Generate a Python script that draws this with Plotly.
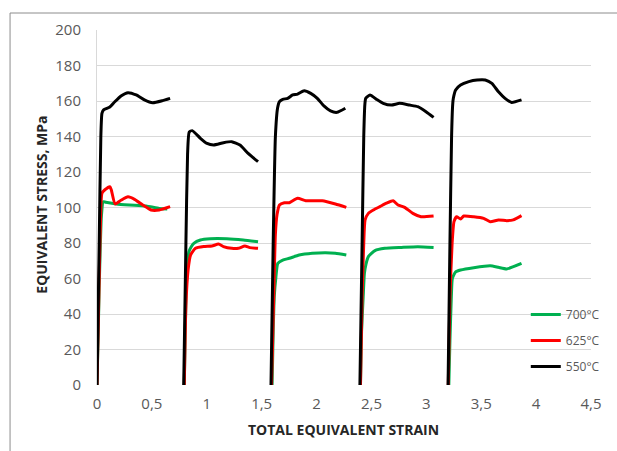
import plotly.graph_objects as go

# ---------------- data ----------------
x_tickvals = [0, 0.5, 1, 1.5, 2, 2.5, 3, 3.5, 4, 4.5]
x_ticktext = ["0", "0,5", "1", "1,5", "2", "2,5", "3", "3,5", "4", "4,5"]
y_tickvals = [0, 20, 40, 60, 80, 100, 120, 140, 160, 180, 200]

series_names = ["700°C", "625°C", "550°C"]
series_colors = ["#00B050", "#FF0000", "#000000"]

# 700 °C (green)
strain_700 = [0, 0.02, 0.04, 0.057, 0.08, 0.177, 0.297, 0.447, 0.567, 0.64, None,
              0.795, 0.81, 0.825, 0.837, 0.86, 0.882, 0.942, 1.032, 1.182, 1.332, 1.467, None,
              1.595, 1.605, 1.615, 1.63, 1.647, 1.692, 1.752, 1.842, 1.962, 2.082, 2.172, 2.271, None,
              2.4, 2.41, 2.425, 2.436, 2.45, 2.472, 2.532, 2.622, 2.772, 2.922, 3.066, None,
              3.205, 3.215, 3.228, 3.237, 3.267, 3.312, 3.432, 3.582, 3.657, 3.732, 3.867]
stress_700 = [0, 55, 95, 103.3, 103, 102, 101.4, 100.8, 99.5, 99.2, None,
              0, 50, 68, 75, 78, 79.8, 81.7, 82.4, 82.4, 81.7, 80.7, None,
              0, 30, 50, 61, 68.5, 70.4, 71.4, 73.2, 74.2, 74.5, 74.2, 73.2, None,
              0, 30, 50, 62.9, 68, 72.3, 75.7, 77, 77.5, 77.9, 77.5, None,
              0, 25, 50, 60, 63.8, 64.8, 66.1, 67.2, 66.3, 65.4, 68.5]

# 625 °C (red)
strain_625 = [0, 0.02, 0.035, 0.045, 0.072, 0.117, 0.13, 0.165, 0.222, 0.282, 0.342, 0.417, 0.492, 0.567, 0.666, None,
              0.795, 0.81, 0.83, 0.852, 0.897, 0.972, 1.047, 1.107, 1.152, 1.227, 1.287, 1.347, 1.392, 1.467, None,
              1.59, 1.61, 1.625, 1.64, 1.662, 1.707, 1.752, 1.827, 1.902, 2.052, 2.172, 2.271, None,
              2.4, 2.415, 2.43, 2.442, 2.472, 2.517, 2.577, 2.637, 2.697, 2.742, 2.802, 2.877, 2.952, 3.066, None,
              3.2, 3.215, 3.235, 3.252, 3.276, 3.312, 3.342, 3.432, 3.522, 3.582, 3.657, 3.732, 3.792, 3.867]
stress_625 = [0, 60, 100, 108, 110, 111.7, 110, 102, 104.2, 106, 104.6, 101.4, 98.6, 98.6, 100.5, None,
              0, 45, 65, 73.2, 77, 78, 78.3, 79.4, 78, 77, 77, 78.3, 77.4, 77, None,
              0, 50, 85, 96, 101.4, 102.7, 102.7, 105.2, 103.8, 103.8, 102, 100.1, None,
              0, 50, 80, 93, 96.7, 98.6, 100.5, 102.4, 103.8, 101.4, 100.1, 96.7, 94.8, 95.2, None,
              0, 50, 80, 92, 94.8, 93.5, 95.2, 94.8, 93.9, 92, 93, 92.6, 93, 95.4]

# 550 °C (black)
strain_550 = [0, 0.02, 0.035, 0.045, 0.06, 0.117, 0.162, 0.222, 0.282, 0.357, 0.432, 0.507, 0.597, 0.666, None,
              0.79, 0.81, 0.825, 0.84, 0.867, 0.942, 1.002, 1.062, 1.152, 1.227, 1.302, 1.377, 1.467, None,
              1.585, 1.605, 1.625, 1.645, 1.662, 1.692, 1.737, 1.782, 1.827, 1.887, 1.947, 2.007, 2.067, 2.127, 2.187, 2.262, None,
              2.395, 2.415, 2.43, 2.44, 2.448, 2.487, 2.547, 2.607, 2.682, 2.757, 2.847, 2.922, 2.997, 3.066, None,
              3.198, 3.215, 3.23, 3.24, 3.246, 3.267, 3.312, 3.387, 3.462, 3.537, 3.597, 3.657, 3.717, 3.777, 3.867]
stress_550 = [0, 80, 140, 153, 155, 156.6, 159.6, 163, 164.7, 163.4, 160.6, 159, 160.2, 161.5, None,
              0, 80, 130, 142.5, 143.3, 139, 136.1, 135.2, 136.5, 137.1, 135.2, 130.5, 125.8, None,
              0, 80, 140, 156, 159.6, 160.9, 161.5, 163.4, 163.9, 165.8, 164.3, 161.5, 157.2, 154.4, 153.6, 155.9, None,
              0, 80, 140, 158, 161.5, 163.4, 160.9, 158.7, 157.7, 158.7, 157.7, 156.8, 154, 150.8, None,
              0, 80, 140, 158, 161.5, 166.2, 169, 170.9, 171.8, 171.8, 169.9, 165.2, 161.5, 159.2, 160.6]

all_strain = [strain_700, strain_625, strain_550]
all_stress = [stress_700, stress_625, stress_550]

# ---------------- figure ----------------
fig = go.Figure()
for name, color, xs, ys in zip(series_names, series_colors, all_strain, all_stress):
    fig.add_trace(go.Scatter(
        x=xs, y=ys, mode="lines", name=name, legendgroup=name,
        line=dict(color=color, width=3, shape="spline", smoothing=0.5),
        connectgaps=False,
    ))

tick_font = dict(family="Open Sans", size=15, color="#595959")
title_font = dict(family="Open Sans", size=14, color="#262626")

fig.update_layout(
    width=617, height=451,
    margin=dict(l=97, r=20, t=30, b=66),
    paper_bgcolor="white", plot_bgcolor="white",
    showlegend=True,
    legend=dict(x=(531 - 97) / 500, xanchor="left", y=(385 - 300) / 355, yanchor="top",
                font=dict(family="Open Sans", size=12, color="#595959"),
                bgcolor="rgba(0,0,0,0)", tracegroupgap=7, itemwidth=30),
    xaxis=dict(range=[0, 4.5], tickvals=x_tickvals, ticktext=x_ticktext,
               showgrid=False, zeroline=False, showline=False, ticks="",
               tickfont=tick_font, ticklabelstandoff=8),
    yaxis=dict(range=[0, 200], tickvals=y_tickvals, showgrid=True, gridcolor="#d9d9d9",
               gridwidth=1, zeroline=False, showline=True, linecolor="#d9d9d9", linewidth=1,
               ticks="", tickfont=tick_font, ticklabelstandoff=12),
    shapes=[dict(type="rect", xref="paper", yref="paper",
                 x0=(9 - 97) / 500, x1=1.3, y0=-0.5, y1=(385 - 13) / 355,
                 line=dict(color="#8c8c8c", width=1), fillcolor="rgba(0,0,0,0)", layer="below")],
    annotations=[
        dict(text="<b>TOTAL EQUIVALENT STRAIN</b>", xref="paper", yref="paper",
             x=0.498, y=(385 - 429) / 355, xanchor="center", yanchor="middle",
             showarrow=False, font=title_font),
        dict(text="<b>EQUIVALENT STRESS, MPa</b>", xref="paper", yref="paper",
             x=(40 - 97) / 500, y=0.507, xanchor="center", yanchor="middle",
             textangle=-90, showarrow=False, font=title_font),
    ],
)

fig.write_html("out.html", config={"displayModeBar": False},
               post_script="document.body.style.margin='0';")
